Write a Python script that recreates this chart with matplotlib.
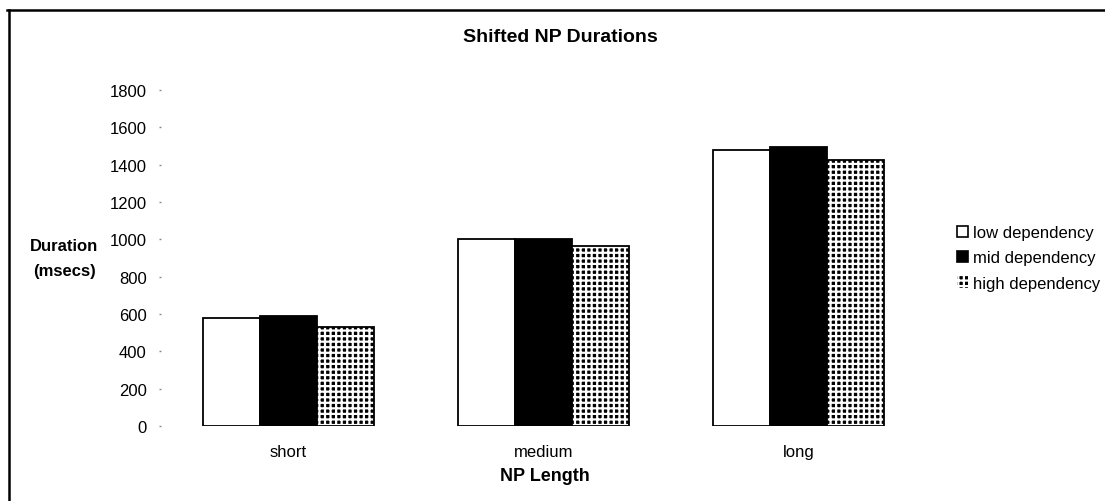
import matplotlib
matplotlib.use("Agg")
import matplotlib.pyplot as plt
import numpy as np
from matplotlib.lines import Line2D
from matplotlib.patches import Patch

plt.rcParams['font.family'] = ['Liberation Sans', 'DejaVu Sans']
plt.rcParams['hatch.linewidth'] = 1.6

categories = ["short", "medium", "long"]
series_names = ["low dependency", "mid dependency", "high dependency"]
low_vals = [576, 1000, 1478]
mid_vals = [590, 1003, 1496]
high_vals = [531, 965, 1424]
yticks = [0, 200, 400, 600, 800, 1000, 1200, 1400, 1600, 1800]

W, H = 1105, 502
fig = plt.figure(figsize=(W / 100, H / 100), dpi=100)
ax = fig.add_axes([161 / W, 1 - 427 / H, (926 - 161) / W, (427 - 91) / H])

x = np.arange(len(categories))
bw = 0.224
ax.bar(x - bw, low_vals, bw, facecolor="white", edgecolor="black", linewidth=1.3, label=series_names[0])
ax.bar(x, mid_vals, bw, facecolor="black", edgecolor="black", linewidth=1.3, label=series_names[1])
ax.bar(x + bw, high_vals, bw, facecolor="black", edgecolor="white", hatch="+++", linewidth=0)
ax.bar(x + bw, high_vals, bw, facecolor="none", edgecolor="black", linewidth=1.3)

ax.set_xlim(-0.5, 2.5)
ax.set_ylim(0, 1800)
ax.set_yticks(yticks)
ax.set_yticklabels([str(v) for v in yticks], fontsize=12)
ax.set_xticks(x)
ax.set_xticklabels(categories, fontsize=12)
for s in ax.spines.values():
    s.set_visible(False)
ax.tick_params(axis="y", length=1.2, width=1, color="#888888", pad=9)
ax.tick_params(axis="x", length=0, pad=13)

fig.text(560 / W, 1 - 37 / H, "Shifted NP Durations", ha="center", va="center",
         fontsize=14, fontweight="bold")
fig.text(545 / W, 1 - 477 / H, "NP Length", ha="center", va="center",
         fontsize=13, fontweight="bold")
fig.text(64 / W, 1 - 247 / H, "Duration", ha="center", va="center",
         fontsize=12, fontweight="bold")
fig.text(64 / W, 1 - 272 / H, "(msecs)", ha="center", va="center",
         fontsize=12, fontweight="bold")

handles = [
    Patch(facecolor="white", edgecolor="black", linewidth=1.2),
    Patch(facecolor="black", edgecolor="black", linewidth=1.2),
    Patch(facecolor="black", edgecolor="white", hatch="+++", linewidth=0),
]
leg = fig.legend(handles, series_names, loc="center left",
                 bbox_to_anchor=(945 / W, 1 - 259 / H), frameon=False,
                 fontsize=12, handlelength=0.65, handleheight=0.65,
                 handletextpad=0.3, labelspacing=0.62, borderpad=0.2)

# chart border (top and left edges)
fig.add_artist(Line2D([7 / W, 1.0], [1 - 10.5 / H, 1 - 10.5 / H], color="black", lw=1.8))
fig.add_artist(Line2D([8.5 / W, 8.5 / W], [1 - 10.5 / H, 0], color="black", lw=1.8))

fig.savefig("out.png", dpi=100)
